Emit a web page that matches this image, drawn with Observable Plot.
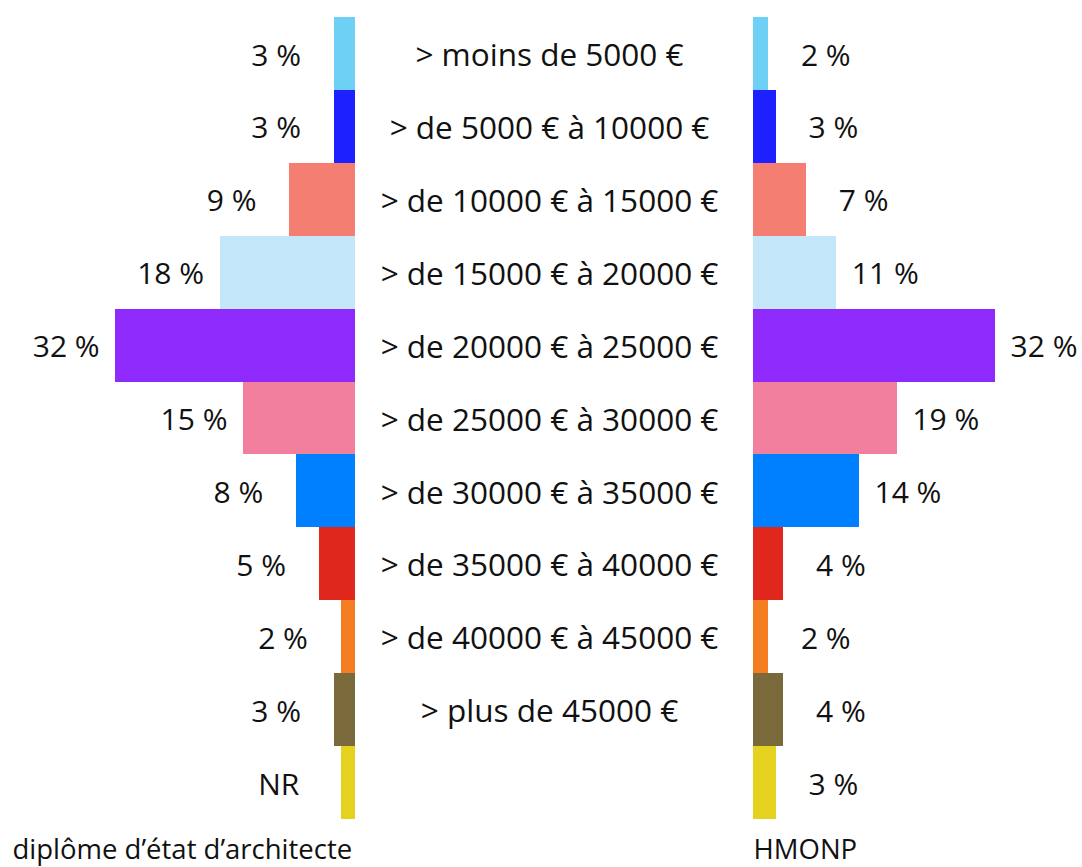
<!DOCTYPE html>
<html><head><meta charset="utf-8">
<script src="https://cdn.jsdelivr.net/npm/d3@7"></script>
<script src="https://cdn.jsdelivr.net/npm/@observablehq/plot@0.6"></script>
<style>
body{margin:0;background:#fff;}
#wrap{position:relative;width:1082px;height:867px;overflow:hidden;}
#wrap > *{position:absolute;top:0;}
</style></head><body><div id="wrap"></div>
<script>
const categories = ["moins5","5-10","10-15","15-20","20-25","25-30","30-35","35-40","40-45","plus45","NR"];
const middleLabels = ["> moins de 5000 €","> de 5000 € à 10000 €","> de 10000 € à 15000 €","> de 15000 € à 20000 €","> de 20000 € à 25000 €","> de 25000 € à 30000 €","> de 30000 € à 35000 €","> de 35000 € à 40000 €","> de 40000 € à 45000 €","> plus de 45000 €",""];
const leftValues = [2.8, 2.8, 8.7, 17.9, 31.7, 14.8, 7.8, 4.8, 1.9, 2.8, 1.9];
const leftLabels = ["3 %","3 %","9 %","18 %","32 %","15 %","8 %","5 %","2 %","3 %","NR"];
const rightValues = [2, 3, 7, 11, 32, 19, 14, 4, 2, 4, 3];
const rightLabels = ["2 %","3 %","7 %","11 %","32 %","19 %","14 %","4 %","2 %","4 %","3 %"];
const colors = ["#6fd0f6","#1d20ff","#f47e72","#c3e6f8","#8e2bfc","#f27f9d","#0080ff","#e0271e","#f57d21","#79693b","#e5d21f"];
const leftTitle = "diplôme d’état d’architecte";
const rightTitle = "HMONP";

const left = categories.map((c,i)=>({cat:c, value:leftValues[i], label:leftLabels[i]}));
const right = categories.map((c,i)=>({cat:c, value:rightValues[i], label:rightLabels[i]}));
const mid = categories.map((c,i)=>({cat:c, label:middleLabels[i]}));

const font = "'Open Sans', sans-serif";
const common = {
  height: 867, marginTop: 17, marginBottom: 48, marginLeft: 0, marginRight: 0,
  y: {type: "band", domain: categories, padding: 0, round: false, axis: null},
  color: {domain: categories, range: colors},
  style: {fontFamily: font, background: "transparent", overflow: "visible", color: "#111"}
};

const leftPlot = Plot.plot({
  ...common, width: 355,
  x: {domain: [0, 46.94], reverse: true, axis: null},
  marks: [
    Plot.barX(left, {y: "cat", x1: 0, x2: "value", fill: "cat", shapeRendering: "crispEdges"}),
    Plot.text(left, {y: "cat", x: "value", text: "label", textAnchor: "start", dx: -83, dy: 2, fontSize: 30, fill: "#111"}),
    Plot.text([leftTitle], {frameAnchor: "bottom-left", text: d => d, dx: 12, dy: 39, fontSize: 27.5, lineAnchor: "bottom", textAnchor: "start", fill: "#111"})
  ]
});

const midPlot = Plot.plot({
  ...common, width: 398,
  x: {domain: [0, 1], axis: null},
  marks: [
    Plot.text(mid, {y: "cat", text: "label", frameAnchor: "middle", dx: -5, dy: 2, fontSize: 31.5, fill: "#111"})
  ]
});

const rightPlot = Plot.plot({
  ...common, width: 329,
  x: {domain: [0, 43.5], axis: null},
  marks: [
    Plot.barX(right, {y: "cat", x1: 0, x2: "value", fill: "cat", shapeRendering: "crispEdges"}),
    Plot.text(right, {y: "cat", x: "value", text: "label", textAnchor: "end", dx: 82, dy: 2, fontSize: 30, fill: "#111"}),
    Plot.text([rightTitle], {frameAnchor: "bottom-left", text: d => d, dx: 0, dy: 39, fontSize: 27.5, lineAnchor: "bottom", textAnchor: "start", fill: "#111"})
  ]
});

const wrap = document.getElementById("wrap");
leftPlot.style.left = "0px";
midPlot.style.left = "355px";
rightPlot.style.left = "753px";
wrap.append(leftPlot, midPlot, rightPlot);
</script>
</body></html>
